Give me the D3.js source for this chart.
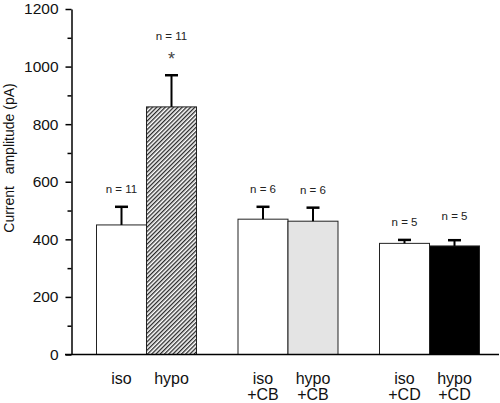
<!DOCTYPE html>
<html><head><meta charset="utf-8">
<script src="https://cdn.jsdelivr.net/npm/d3@7"></script>
<style>body{margin:0;background:#fff;} svg{display:block;font-family:"Liberation Sans",Arial,sans-serif;}</style>
</head><body>
<svg id="c" width="500" height="403"></svg>
<script>
const groups = ["ctrl", "CB", "CD"];
const conds = ["iso", "hypo"];
const labels1 = ["iso", "hypo", "iso", "hypo", "iso", "hypo"];
const labels2 = ["", "", "+CB", "+CB", "+CD", "+CD"];
const means = [450, 860, 470, 463, 386, 377];
const errors = [63, 110, 43, 47, 12, 20];
const nLabels = ["n = 11", "n = 11", "n = 6", "n = 6", "n = 5", "n = 5"];
const stars = ["", "*", "", "", "", ""];
const yTicks = [0, 200, 400, 600, 800, 1000, 1200];
const fills = ["#fff", "url(#hatch)", "#fff", "#e4e4e4", "#fff", "#000"];

const svg = d3.select("#c");
const defs = svg.append("defs");
const pat = defs.append("pattern").attr("id", "hatch").attr("patternUnits", "userSpaceOnUse")
  .attr("width", 3).attr("height", 3).attr("patternTransform", "rotate(45)");
pat.append("rect").attr("width", 3).attr("height", 3).attr("fill", "#fff");
pat.append("line").attr("x1", 0.7).attr("y1", 0).attr("x2", 0.7).attr("y2", 3)
  .attr("stroke", "#111").attr("stroke-width", 1.2);

const y = d3.scaleLinear().domain([0, 1200]).range([354.5, 9]);
const xg = d3.scaleBand().domain(groups).range([96.5, 479.5]).paddingInner(0.2933).paddingOuter(0);
const xi = d3.scaleBand().domain(conds).range([0, xg.bandwidth()]);

const data = means.map((m, i) => ({
  m, e: errors[i], n: nLabels[i], s: stars[i], l1: labels1[i], l2: labels2[i], f: fills[i],
  x: xg(groups[Math.floor(i / 2)]) + xi(conds[i % 2]), w: xi.bandwidth()
}));

// bars
svg.selectAll("rect.bar").data(data).enter().append("rect")
  .attr("class", "bar")
  .attr("x", d => d.x).attr("width", d => d.w)
  .attr("y", d => y(d.m)).attr("height", d => y(0) - y(d.m))
  .attr("fill", d => d.f).attr("stroke", "#222").attr("stroke-width", 1);

// error bars
const eb = svg.selectAll("g.err").data(data).enter().append("g").attr("class", "err");
eb.append("line").attr("x1", d => d.x + d.w / 2).attr("x2", d => d.x + d.w / 2)
  .attr("y1", d => y(d.m)).attr("y2", d => y(d.m + d.e))
  .attr("stroke", "#000").attr("stroke-width", 2);
eb.append("line").attr("x1", d => d.x + d.w / 2 - 6.5).attr("x2", d => d.x + d.w / 2 + 6.5)
  .attr("y1", d => y(d.m + d.e)).attr("y2", d => y(d.m + d.e))
  .attr("stroke", "#000").attr("stroke-width", 2.5);

// n labels
svg.selectAll("text.n").data(data).enter().append("text")
  .attr("class", "n")
  .attr("x", d => d.x + d.w / 2)
  .attr("y", (d, i) => y(d.m + d.e) - (d.s ? 35 : (i === 5 ? 20 : 14)))
  .attr("text-anchor", "middle").attr("font-size", 11.5).attr("fill", "#222")
  .text(d => d.n);
svg.selectAll("text.star").data(data.filter(d => d.s)).enter().append("text")
  .attr("x", d => d.x + d.w / 2).attr("y", d => y(d.m + d.e) - 10)
  .attr("text-anchor", "middle").attr("font-size", 18).attr("fill", "#444")
  .text(d => d.s);

// y axis
const yAxis = d3.axisLeft(y).tickValues(d3.range(0, 1201, 100))
  .tickSize(0).tickFormat(d => yTicks.includes(d) ? d : "").tickSizeOuter(0);
const ga = svg.append("g").attr("transform", "translate(71.5,0)").call(yAxis);
ga.select(".domain").attr("stroke", "#000").attr("stroke-width", 1.5);
ga.selectAll(".tick line").attr("x2", d => yTicks.includes(d) ? -6 : -4)
  .attr("stroke", "#000").attr("stroke-width", 1.5);
ga.selectAll(".tick text").attr("x", -13).attr("font-size", 15.5)
  .attr("font-family", "'Liberation Sans',Arial,sans-serif").attr("fill", "#111");

// baseline
svg.append("line").attr("x1", 65).attr("x2", 499).attr("y1", y(0)).attr("y2", y(0))
  .attr("stroke", "#000").attr("stroke-width", 1.5);

// x labels
const xl = svg.selectAll("g.xl").data(data).enter().append("g").attr("class", "xl");
xl.append("text").attr("x", d => d.x + d.w / 2).attr("y", 384)
  .attr("text-anchor", "middle").attr("font-size", 16).attr("fill", "#111").text(d => d.l1);
xl.append("text").attr("x", d => d.x + d.w / 2).attr("y", 400)
  .attr("text-anchor", "middle").attr("font-size", 16).attr("fill", "#111").text(d => d.l2);

// y label
svg.append("text").attr("transform", "translate(14,158) rotate(-90)")
  .attr("text-anchor", "middle").attr("font-size", 14).attr("fill", "#111")
  .attr("xml:space", "preserve").style("white-space", "pre")
  .text("Current   amplitude (pA)");
</script>
</body></html>
